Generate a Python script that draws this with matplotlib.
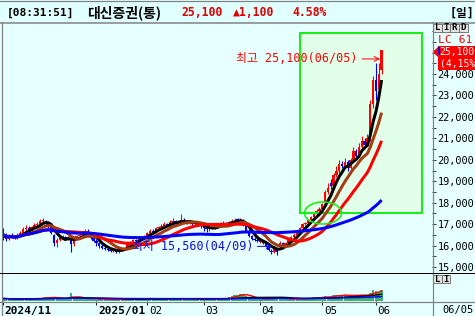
import numpy as np
import pandas as pd
import matplotlib
matplotlib.use('Agg')
import matplotlib.pyplot as plt
from matplotlib.patches import Rectangle, Ellipse, Polygon
import matplotlib.transforms as mtransforms
from matplotlib.ticker import MultipleLocator, FixedLocator, FuncFormatter

plt.rcParams['font.family'] = ['DejaVu Sans Mono', 'Noto Sans CJK KR']

W, H, DPI = 475, 316, 100

# ---------------- data ----------------
month_idx = [0, 33, 51, 71, 91, 113, 132]
month_labels = ['2024/11', '2025/01', '02', '03', '04', '05', '06']
year_labels = ['2024/11', '2025/01']

opens = [16750, 16500, 16300, 16450, 16400, 16350, 16500, 16600, 16750, 16800, 16700, 16850, 16950,
         17000, 17150, 17100, 17050, 16900, 16500, 16100, 16250,
         16350, 16400, 16300, 16350, 16050, 16350, 16450, 16500, 16650, 16700, 16600, 16350,
         16200, 16100, 16000, 15900, 15850, 15800, 15750, 15800, 15700, 15800, 15850, 15900, 16050, 16150,
         16250, 16200, 16350, 16400,
         16450, 16600, 16700, 16650, 16800, 16850, 16900, 17000, 16950, 17100, 17150, 17050, 17100, 17200,
         17150, 17050, 17100, 17000, 17050, 16950,
         16900, 16800, 16750, 16850, 16800, 16900, 16950, 17000, 17050, 17000, 17100, 17150, 17250, 17150,
         17200, 16950, 16700, 16450, 16300, 16250,
         16150, 16200, 16100, 16000, 15750, 15700, 15900, 15950, 16100, 16000, 16100, 16300, 16400, 16500,
         16650, 16800, 17000, 17050, 17200, 17350, 17450, 17600,
         17700, 18000, 18500, 18900, 18800, 19300, 19500, 19800, 19700, 19900, 19600, 20000, 20400, 20200,
         20600, 20900, 20700, 21000, 22600, 23700, 23300, 24200]
highs = [16800, 16600, 16550, 16600, 16500, 16600, 16700, 16850, 16950, 16900, 16900, 17050, 17100,
         17250, 17300, 17200, 17100, 16950, 16550, 16350, 16450,
         16500, 16450, 16450, 16400, 16400, 16500, 16600, 16700, 16750, 16750, 16650, 16400,
         16300, 16150, 16050, 16000, 15950, 15850, 15900, 15850, 15850, 15900, 15950, 16100, 16200, 16300,
         16300, 16400, 16450, 16500,
         16650, 16750, 16750, 16850, 16900, 17000, 17100, 17050, 17200, 17300, 17200, 17200, 17450, 17300,
         17200, 17200, 17150, 17150, 17100, 17000,
         16950, 16850, 16900, 16900, 16950, 17000, 17100, 17150, 17100, 17150, 17250, 17300, 17300, 17300,
         17250, 17000, 16750, 16500, 16400, 16350,
         16300, 16250, 16150, 16050, 15850, 16000, 15950, 16200, 16150, 16150, 16350, 16450, 16600, 16700,
         16850, 17050, 17100, 17250, 17400, 17500, 17700, 17800,
         18000, 18600, 18900, 19100, 19400, 19700, 20000, 19950, 20100, 20000, 20100, 20600, 20500, 20800,
         21100, 21000, 21200, 22800, 23900, 24500, 24500, 25100]
lows = [16250, 16200, 16250, 16350, 16300, 16300, 16450, 16550, 16700, 16650, 16650, 16800, 16900,
        16950, 17050, 16900, 16800, 16550, 16000, 15950, 16200,
        16300, 16250, 16250, 15700, 16000, 16300, 16400, 16450, 16600, 16550, 16300, 16150,
        16000, 15900, 15850, 15800, 15750, 15700, 15700, 15650, 15650, 15750, 15800, 15850, 16000, 16100,
        16150, 16150, 16300, 16350,
        16400, 16550, 16600, 16600, 16750, 16800, 16850, 16900, 16900, 17050, 17000, 17000, 17050, 17100,
        17000, 17000, 16950, 16950, 16900, 16800,
        16700, 16650, 16700, 16750, 16750, 16850, 16900, 16950, 16950, 16950, 17050, 17100, 17100, 17100,
        16900, 16650, 16400, 16250, 16200, 16150,
        16100, 16050, 15950, 15750, 15600, 15650, 15560, 15900, 15950, 15950, 16050, 16250, 16350, 16450,
        16600, 16750, 16950, 17000, 17150, 17300, 17400, 17550,
        17650, 17950, 18400, 18650, 18750, 19200, 19400, 19600, 19650, 19500, 19550, 19950, 20100, 20150,
        20500, 20600, 20650, 20900, 22400, 22800, 23100, 24000]
closes = [16500, 16300, 16450, 16400, 16350, 16500, 16600, 16750, 16800, 16700, 16850, 16950, 17000,
          17150, 17200, 17050, 16900, 16600, 16100, 16250, 16350,
          16400, 16300, 16350, 16050, 16350, 16450, 16500, 16650, 16700, 16600, 16350, 16200,
          16100, 16000, 15900, 15850, 15800, 15750, 15800, 15700, 15800, 15850, 15900, 16050, 16150, 16250,
          16200, 16350, 16400, 16450,
          16600, 16700, 16650, 16800, 16850, 16900, 17000, 16950, 17100, 17150, 17050, 17100, 17200, 17150,
          17050, 17100, 17000, 17050, 16950, 16900,
          16800, 16750, 16850, 16800, 16900, 16950, 17000, 17050, 17000, 17100, 17150, 17200, 17150, 17200,
          16950, 16700, 16450, 16300, 16250, 16200,
          16200, 16100, 16000, 15800, 15700, 15900, 15700, 16100, 16000, 16100, 16300, 16400, 16500, 16650,
          16800, 17000, 17050, 17200, 17350, 17450, 17600, 17700,
          17950, 18500, 18700, 18800, 19300, 19500, 19800, 19700, 19900, 19600, 20000, 20400, 20200, 20600,
          20900, 20700, 21000, 22600, 23700, 23200, 24000, 25100]
volumes = [90, 80, 70, 70, 60, 70, 60, 80, 90, 70, 80, 100, 90,
           110, 120, 140, 120, 110, 150, 100, 90,
           80, 70, 150, 290, 120, 90, 80, 70, 130, 70, 80, 60,
           70, 60, 60, 70, 60, 50, 60, 50, 60, 60, 50, 70, 60, 70, 60, 70, 80, 110,
           90, 80, 70, 70, 80, 110, 80, 70, 70, 80, 90, 70, 100, 80, 70, 70, 60, 70, 60, 70,
           80, 70, 70, 60, 110, 70, 70, 110, 80, 150, 170, 200, 230, 260, 250, 180, 120, 100, 90, 80,
           80, 70, 70, 90, 120, 100, 110, 90, 80, 70, 60, 60, 70, 80, 110, 90, 80, 90, 100, 130, 140, 130,
           120, 170, 160, 140, 200, 230, 220, 190, 210, 180, 200, 220, 200, 210, 220, 190, 230, 300, 380,
           350, 330, 400]

ma_periods = [5, 10, 20, 60]
ma_colors = ['#000000', '#A33C12', '#FF0000', '#0000FF']
vol_ma_periods = [5, 20, 60]
vol_ma_colors = ['#FF0000', '#000000', '#0000FF']

high_label = '최고 25,100(06/05)'
low_label = '최저 15,560(04/09)'
price_box_lines = ['25,100', '(4,15%']

# ---------------- layout helpers ----------------
BG = '#E6FFFF'
GRAY = '#808080'
RED = '#FF0000'
BLUE = '#0000FF'
LIME = '#18EE18'
PX = 0.72  # points per pixel


def px_rect(x0, y0, x1, y1):
    return [x0 / W, 1 - y1 / H, (x1 - x0) / W, (y1 - y0) / H]


X0_PX, DX_PX = 3.3, 2.823
XLIM = ((1.0 - X0_PX) / DX_PX, (432.0 - X0_PX) / DX_PX)

fig = plt.figure(figsize=(W / DPI, H / DPI), dpi=DPI, facecolor=BG)
px_trans = mtransforms.Affine2D().scale(1, -1).translate(0, H)

# ---------------- price panel ----------------
ax = fig.add_axes(px_rect(1, 22.5, 432, 272.5))
ax.set_facecolor(BG)
ax.set_xlim(*XLIM)
ax.set_ylim(14743, 26404)
for s in ax.spines.values():
    s.set_visible(False)

idx = np.arange(len(closes))
o = np.array(opens, float)
c = np.array(closes, float)
hi = np.array(highs, float)
lo = np.array(lows, float)
up = c >= o
cols = np.where(up, RED, BLUE)

# green highlight box
ax.add_patch(Rectangle((300, 33), 122, 180, transform=px_trans, facecolor='#E2FFEA',
                       edgecolor='none', zorder=0.5))

ax.vlines(idx, lo, hi, colors=cols, lw=1.1 * PX, zorder=2)
body = np.maximum(np.abs(c - o), 30)
ax.bar(idx, body, bottom=np.minimum(o, c), width=0.85, color=cols, linewidth=0, zorder=2)

ax.add_patch(Rectangle((300, 33), 122, 180, transform=px_trans, fill=False,
                       edgecolor=LIME, lw=2 * PX, zorder=2.5))

cs = pd.Series(c)
for p, col in zip(ma_periods, ma_colors):
    ax.plot(idx, cs.rolling(p, min_periods=1).mean(), color=col, lw=3 * PX,
            solid_capstyle='butt', zorder=3)

ax.add_patch(Ellipse((323, 213), 37, 22, transform=px_trans, fill=False,
                     edgecolor=LIME, lw=1.6 * PX, zorder=6))

# price axis on the right
ax.yaxis.tick_right()
ax.yaxis.set_major_locator(FixedLocator(list(range(15000, 25000, 1000))))
ax.yaxis.set_minor_locator(MultipleLocator(500))
ax.yaxis.set_major_formatter(FuncFormatter(lambda v, pos: f'{int(v):,}'))
ax.tick_params(axis='y', which='both', direction='out', length=4 * PX, width=1 * PX,
               color='#404040', labelsize=7.4, pad=1.5 * PX, labelcolor='black')
ax.tick_params(axis='x', bottom=False, labelbottom=False)

# annotations
hi_i = int(np.argmax(hi))
lo_i = int(np.argmin(lo))
hi_xy = mtransforms.offset_copy(ax.transData, fig=fig, x=-1.6, y=-8.5, units='dots')
ax.annotate(high_label, xy=(hi_i, hi[hi_i]), xycoords=hi_xy, xytext=(-22, 0),
            textcoords='offset pixels', ha='right', va='center', color=RED, fontsize=8.5,
            arrowprops=dict(arrowstyle='->', color=RED, lw=1 * PX, relpos=(1, 0.5),
                            shrinkA=1, shrinkB=0), zorder=7)
lo_xy = mtransforms.offset_copy(ax.transData, fig=fig, x=-5, y=8.6, units='dots')
ax.annotate(low_label, xy=(lo_i, lo[lo_i]), xycoords=lo_xy, xytext=(-19, 0),
            textcoords='offset pixels', ha='right', va='center', color='#1010E0', fontsize=8.5,
            arrowprops=dict(arrowstyle='->', color='#1010E0', lw=1 * PX, relpos=(1, 0.5),
                            shrinkA=1, shrinkB=0), zorder=7)

# ---------------- volume panel ----------------
av = fig.add_axes(px_rect(1, 273, 432, 301))
av.set_facecolor('none')
av.set_xlim(*XLIM)
av.set_ylim(0, 1000)
for s in av.spines.values():
    s.set_visible(False)
av.bar(idx, volumes, width=0.95, color='#3CB371', linewidth=0, zorder=2)
vs = pd.Series(np.array(volumes, float))
for p, col in zip(vol_ma_periods, vol_ma_colors):
    av.plot(idx, vs.rolling(p, min_periods=1).mean(), color=col, lw=1.4 * PX, zorder=3)
av.set_yticks([])
av.set_xticks(month_idx)
av.set_xticklabels(month_labels)
av.tick_params(axis='x', direction='out', length=4 * PX, width=1 * PX, color='#202020',
               pad=1, labelsize=8)
shift = mtransforms.ScaledTranslation(1.5 / DPI, 0, fig.dpi_scale_trans)
for lab in av.get_xticklabels():
    lab.set_horizontalalignment('left')
    lab.set_transform(lab.get_transform() + shift)
    if lab.get_text() in year_labels:
        lab.set_fontweight('bold')
    else:
        lab.set_fontsize(7.8)

# ---------------- overlay: frame, header, right panel ----------------
ov = fig.add_axes([0, 0, 1, 1], facecolor='none', zorder=10)
ov.set_xlim(0, W)
ov.set_ylim(H, 0)
ov.axis('off')

ov.add_patch(Rectangle((0, 0), W, 22, facecolor='#E0FFFF', edgecolor='none', zorder=0))
ov.plot([0, W], [0.5, 0.5], color=GRAY, lw=1.2 * PX)
ov.plot([0, W], [22.5, 22.5], color=GRAY, lw=1.5 * PX)
ov.plot([1.5, 1.5], [22, H], color=GRAY, lw=1.2 * PX)
ov.plot([432.5, 432.5], [22, H], color=GRAY, lw=1.2 * PX)
ov.plot([0, W], [272.5, 272.5], color='black', lw=1 * PX)
ov.plot([0, W], [301.5, 301.5], color=GRAY, lw=1.2 * PX)

# header texts
hdr = dict(va='center', ha='left', fontweight='bold')
ov.text(7, 13, '[08:31:51]', fontsize=8, color='black', **hdr)
ov.text(87, 13, '대신증권(통)', fontsize=10, color='black',
        family=['Noto Sans CJK KR'], **hdr)
ov.text(181, 13, '25,100', fontsize=8.3, color='#E00000', **hdr)
ov.text(233, 13, '▲1,100', fontsize=8.3, color='#E00000', **hdr)
ov.text(292, 13, '4.58%', fontsize=8.3, color='#E00000', **hdr)
ov.text(450, 13, '[일]', fontsize=8.4, color='black', **hdr)

# L I R D buttons
for lab, x0 in zip(['L', 'I', 'R', 'D'], [433, 441.5, 450, 459]):
    ov.add_patch(Rectangle((x0, 23.5), 8.5, 8.5, facecolor='#E4E4E4', edgecolor='#606060',
                           lw=0.8 * PX))
    ov.text(x0 + 4.25, 28, lab, fontsize=6.5, fontweight='bold', ha='center', va='center')
for lab, x0 in zip(['L', 'I'], [433, 441.5]):
    ov.add_patch(Rectangle((x0, 274.5), 8.5, 8.5, facecolor='#E4E4E4', edgecolor='#606060',
                           lw=0.8 * PX))
    ov.text(x0 + 4.25, 279, lab, fontsize=6.5, fontweight='bold', ha='center', va='center')

ov.text(438, 40, 'LC 61', fontsize=8.2, color=RED, ha='left', va='center')

# current price box
ov.add_patch(Rectangle((438, 46), 37, 24, facecolor=RED, edgecolor='none'))
ov.add_patch(Polygon([(432.5, 52), (438, 47), (438, 57)], closed=True, facecolor=RED,
                     edgecolor='none'))
ov.add_patch(Rectangle((438, 47), 1.5, 8, facecolor=BLUE, edgecolor='none'))
ov.text(439.8, 52, price_box_lines[0], fontsize=7.0, color='white', ha='left', va='center')
ov.text(439.8, 64, price_box_lines[1], fontsize=7.0, color='white', ha='left', va='center')

ov.text(442, 309.5, '06/05', fontsize=7.5, color='black', ha='left', va='center')

fig.savefig('out.png', dpi=DPI, facecolor=fig.get_facecolor())
